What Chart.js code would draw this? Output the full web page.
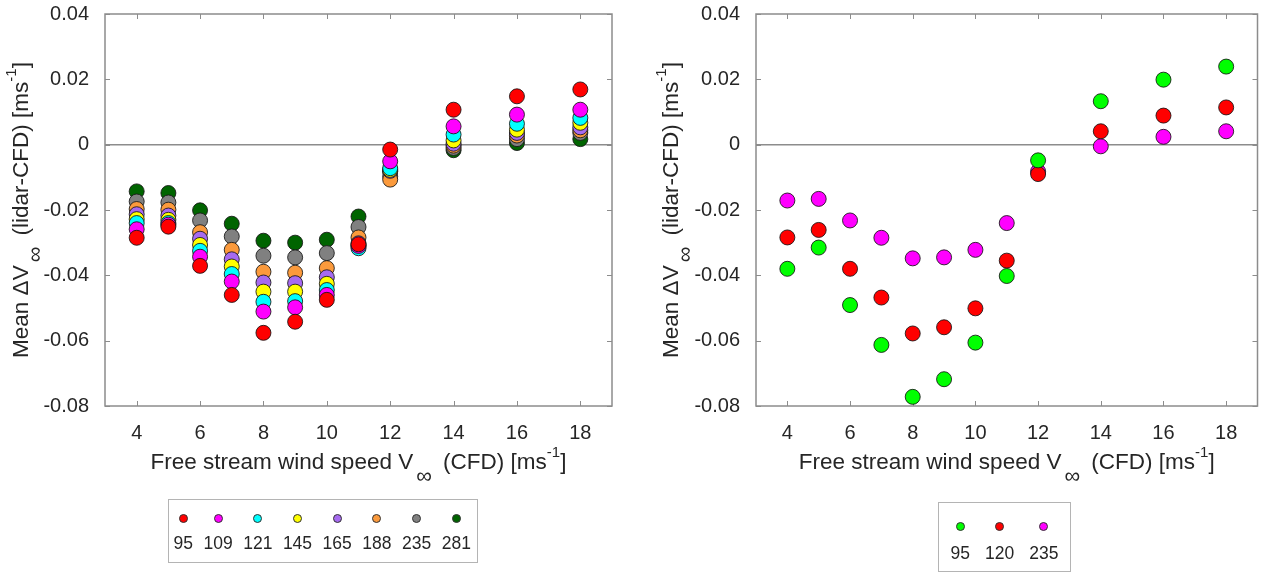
<!DOCTYPE html>
<html>
<head>
<meta charset="utf-8">
<script src="https://cdn.jsdelivr.net/npm/chart.js@4.4.1/dist/chart.umd.min.js"></script>
<style>
  body { margin: 0; background: #fff; font-family: "Liberation Sans", Arial, sans-serif; }
  #wrap { position: relative; width: 1266px; height: 574px; overflow: hidden; }
  .plot { position: absolute; top: 0; width: 633px; height: 574px; }
  .legend { position: absolute; border: 1px solid #b4b4b4; box-sizing: border-box; display: flex; color: #262626; font-size: 17.5px; }
  .item { display: flex; flex-direction: column; align-items: center; }
  .dot { width: 9px; height: 9px; border-radius: 50%; border: 1px solid #333; box-sizing: border-box; }
  .item span { line-height: 20px; }
</style>
</head>
<body>
<div id="wrap">
  <div class="plot" style="left:0"><canvas id="leftChart" width="633" height="574"></canvas></div>
  <div class="plot" style="left:633px"><canvas id="rightChart" width="633" height="574"></canvas></div>
  <div class="legend" id="leftLegend" style="left:168px; top:499px; width:310px; height:64px; padding:14px 0 0 4.5px; gap:10.5px;"></div>
  <div class="legend" id="rightLegend" style="left:938px; top:502px; width:133px; height:70px; padding:18.5px 0 0 11.5px; gap:15px;"></div>
</div>
<script>
const speeds = [4, 5, 6, 7, 8, 9, 10, 11, 12, 14, 16, 18];
const xTicks = [4, 6, 8, 10, 12, 14, 16, 18];
const yTicks = [-0.08, -0.06, -0.04, -0.02, 0, 0.02, 0.04];

// left panel: lidar heights
const leftLabels = ["95", "109", "121", "145", "165", "188", "235", "281"];
const leftColors = ["#ff0000", "#ff00ff", "#00ffff", "#ffff00", "#a66af0", "#fb9a3c", "#808080", "#006400"];
const left95  = [-0.0285, -0.0251, -0.0371, -0.0460, -0.0576, -0.0542, -0.0475, -0.0305, -0.0015, 0.0107, 0.0148, 0.0169];
const left109 = [-0.0259, -0.0245, -0.0343, -0.0419, -0.0511, -0.0498, -0.0460, -0.0310, -0.0051, 0.0056, 0.0092, 0.0107];
const left121 = [-0.0240, -0.0240, -0.0325, -0.0396, -0.0481, -0.0479, -0.0445, -0.0317, -0.0072, 0.0031, 0.0064, 0.0082];
const left145 = [-0.0228, -0.0230, -0.0307, -0.0373, -0.0450, -0.0450, -0.0426, -0.0309, -0.0077, 0.0013, 0.0046, 0.0067];
const left165 = [-0.0213, -0.0217, -0.0288, -0.0351, -0.0422, -0.0424, -0.0406, -0.0302, -0.0080, 0.0003, 0.0036, 0.0053];
const left188 = [-0.0197, -0.0199, -0.0268, -0.0322, -0.0389, -0.0392, -0.0378, -0.0284, -0.0107, -0.0003, 0.0028, 0.0044];
const left235 = [-0.0174, -0.0177, -0.0232, -0.0281, -0.0340, -0.0345, -0.0332, -0.0252, -0.0097, -0.0010, 0.0017, 0.0036];
const left281 = [-0.0143, -0.0148, -0.0201, -0.0242, -0.0294, -0.0300, -0.0291, -0.0220, -0.0082, -0.0017, 0.0005, 0.0017];
const leftSeries = [left95, left109, left121, left145, left165, left188, left235, left281];

// right panel
const rightLabels = ["95", "120", "235"];
const rightColors = ["#00ff00", "#ff0000", "#ff00ff"];
const right95  = [-0.0380, -0.0315, -0.0491, -0.0613, -0.0772, -0.0718, -0.0606, -0.0402, -0.0048, 0.0133, 0.0199, 0.0239];
const right120 = [-0.0284, -0.0261, -0.0380, -0.0468, -0.0578, -0.0559, -0.0501, -0.0355, -0.0090, 0.0041, 0.0089, 0.0114];
const right235 = [-0.0171, -0.0166, -0.0232, -0.0285, -0.0348, -0.0345, -0.0322, -0.0240, -0.0082, -0.0005, 0.0024, 0.0041];
const rightSeries = [right95, right120, right235];

const FONT = '"Liberation Sans", Arial, sans-serif';
const TEXT = "#262626";
const AXIS = "#8c8c8c";

Chart.defaults.font.family = FONT;
Chart.defaults.color = TEXT;

// text with sub/superscripts, centred on (cx, cy)
function drawRich(ctx, parts, cx, cy, rotate) {
  ctx.save();
  ctx.translate(cx, cy);
  if (rotate) ctx.rotate(-Math.PI / 2);
  ctx.fillStyle = TEXT;
  ctx.textBaseline = "middle";
  ctx.textAlign = "left";
  let total = 0;
  parts.forEach((p) => {
    ctx.font = (p.size || 22.5) + "px " + FONT;
    p.w = ctx.measureText(p.t).width + (p.before || 0) + (p.after || 0);
    total += p.w;
  });
  let x = -total / 2;
  parts.forEach((p) => {
    ctx.font = (p.size || 22.5) + "px " + FONT;
    ctx.fillText(p.t, x + (p.before || 0), p.dy || 0);
    x += p.w;
  });
  ctx.restore();
}

const xTitle = [
  { t: "Free stream wind speed V" },
  { t: "\u221E", size: 22, dy: 14, before: 3, after: 5 },
  { t: " (CFD) [ms" },
  { t: "-1", size: 15, dy: -10 },
  { t: "]" },
];
const yTitle = [
  { t: "Mean \u0394V" },
  { t: "\u221E", size: 22, dy: 14, before: 3, after: 5 },
  { t: " (lidar-CFD) [ms" },
  { t: "-1", size: 15, dy: -10 },
  { t: "]" },
];

const framePlugin = {
  id: "frame",
  beforeDatasetsDraw(chart) {
    const { ctx, chartArea: a, scales } = chart;
    const x = scales.x, y = scales.y;
    ctx.save();
    ctx.strokeStyle = AXIS;
    ctx.lineWidth = 1.5;
    const y0 = y.getPixelForValue(0);
    ctx.beginPath();
    ctx.moveTo(a.left, y0);
    ctx.lineTo(a.right, y0);
    ctx.stroke();
    ctx.lineWidth = 1;
    ctx.beginPath();
    xTicks.forEach((v) => {
      const px = Math.round(x.getPixelForValue(v)) + 0.5;
      ctx.moveTo(px, a.bottom); ctx.lineTo(px, a.bottom - 5);
      ctx.moveTo(px, a.top); ctx.lineTo(px, a.top + 5);
    });
    yTicks.forEach((v) => {
      const py = Math.round(y.getPixelForValue(v)) + 0.5;
      ctx.moveTo(a.left, py); ctx.lineTo(a.left + 5, py);
      ctx.moveTo(a.right, py); ctx.lineTo(a.right - 5, py);
    });
    ctx.stroke();
    ctx.lineWidth = 1.5;
    ctx.strokeRect(a.left, a.top, a.right - a.left, a.bottom - a.top);
    ctx.restore();
  },
  afterDraw(chart) {
    const { ctx, chartArea: a } = chart;
    drawRich(ctx, xTitle, (a.left + a.right) / 2, 463, false);
    drawRich(ctx, yTitle, chart.options.plugins.frame.yTitleX, (a.top + a.bottom) / 2, true);
  },
};

function createChart(id, series, colors, labels, axisWidth, padRight, yTitleX) {
  const datasets = series.map((vals, i) => ({
    label: labels[i],
    data: vals.map((v, j) => ({ x: speeds[j], y: v })),
    backgroundColor: colors[i],
    borderColor: "rgba(20,20,20,0.85)",
    borderWidth: 1,
    pointRadius: 7.5,
    pointHoverRadius: 7.5,
  }));
  return new Chart(document.getElementById(id), {
    type: "scatter",
    data: { datasets: datasets },
    options: {
      responsive: false,
      animation: false,
      layout: { padding: { left: 0, right: padRight, top: 14, bottom: 0 } },
      scales: {
        x: {
          type: "linear",
          min: 3,
          max: 19,
          afterBuildTicks: (s) => { s.ticks = xTicks.map((v) => ({ value: v })); },
          afterFit: (s) => { s.height = 168; s.paddingLeft = 0; s.paddingRight = 0; },
          grid: { display: false },
          border: { display: false },
          ticks: { font: { size: 20 }, color: TEXT, padding: 7, maxRotation: 0 },
        },
        y: {
          min: -0.08,
          max: 0.04,
          afterBuildTicks: (s) => { s.ticks = yTicks.map((v) => ({ value: v })); },
          afterFit: (s) => { s.width = axisWidth; s.paddingTop = 0; s.paddingBottom = 0; },
          grid: { display: false },
          border: { display: false },
          ticks: {
            font: { size: 20 },
            color: TEXT,
            padding: 8,
            callback: (v) => (Math.abs(v) < 1e-9 ? "0" : v.toFixed(2)),
          },
        },
      },
      plugins: {
        legend: { display: false },
        tooltip: { enabled: false },
        frame: { yTitleX: yTitleX },
      },
    },
    plugins: [framePlugin],
  });
}

function buildLegend(id, labels, colors) {
  const box = document.getElementById(id);
  labels.forEach((lab, i) => {
    const item = document.createElement("div");
    item.className = "item";
    item.innerHTML = `<div class="dot" style="background:${colors[i]}"></div><span>${lab}</span>`;
    box.appendChild(item);
  });
}

createChart("leftChart", leftSeries, leftColors, leftLabels, 105, 21, 22);
createChart("rightChart", rightSeries, rightColors, rightLabels, 123, 3, 39);
buildLegend("leftLegend", leftLabels, leftColors);
buildLegend("rightLegend", rightLabels, rightColors);
document.querySelectorAll("#leftLegend .dot").forEach((d) => (d.style.marginBottom = "9.5px"));
document.querySelectorAll("#rightLegend .dot").forEach((d) => (d.style.marginBottom = "12px"));
</script>
</body>
</html>
